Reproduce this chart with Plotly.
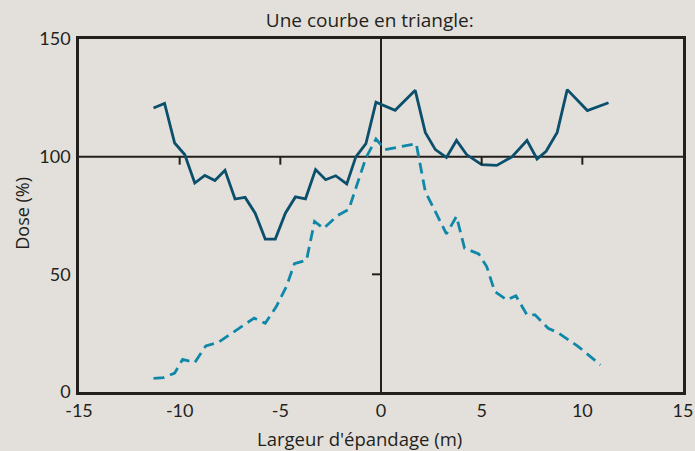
import plotly.graph_objects as go

# Solid curve (dose, overlapping passes)
solid_x = [-11.3, -10.75, -10.25, -9.75, -9.25, -8.75, -8.25, -7.75, -7.25, -6.75, -6.25,
           -5.75, -5.25, -4.75, -4.25, -3.75, -3.25, -2.75, -2.25, -1.7, -1.25, -0.75,
           -0.25, 0.7, 1.7, 2.2, 2.7, 3.25, 3.75, 4.25, 5.0, 5.75, 6.5, 7.25, 7.75,
           8.2, 8.75, 9.25, 10.25, 11.3]
solid_y = [120.7, 122.6, 105.8, 100.9, 88.8, 92.0, 89.9, 94.2, 82.0, 82.7, 76.0,
           65.0, 65.0, 76.0, 82.9, 82.1, 94.5, 90.2, 91.9, 88.4, 99.9, 105.5,
           123.1, 119.7, 128.2, 110.3, 103.0, 99.7, 106.9, 100.9, 96.6, 96.3, 99.9, 106.9, 99.0,
           102.3, 110.3, 128.5, 119.6, 122.9]

# Dashed curve (single pass)
dash_x = [-11.3, -10.8, -10.25, -9.85, -9.25, -8.7, -8.1, -7.0, -6.3, -5.75, -5.2, -4.7,
          -4.3, -3.7, -3.3, -2.85, -2.15, -1.6, -1.25, -0.75, -0.25, 0.2, 1.75, 2.2,
          3.25, 3.75, 4.15, 4.85, 5.25, 5.65, 6.25, 6.7, 7.25, 7.65, 8.3, 8.8, 9.8, 10.9]
dash_y = [5.8, 6.1, 8.0, 13.9, 12.5, 19.6, 21.0, 27.5, 31.4, 29.2, 36.3, 44.8,
          54.5, 56.0, 72.5, 69.5, 75.0, 77.6, 87.0, 99.5, 107.5, 103.0, 105.5, 85.2,
          67.2, 74.6, 61.1, 58.7, 53.3, 42.7, 39.1, 40.9, 32.8, 32.8, 27.1, 25.2, 19.3, 11.5]

x_ticks = [-15, -10, -5, 0, 5, 10, 15]
y_ticks = [0, 50, 100, 150]
inner_x_ticks = [-10, -5, 5, 10]
inner_y_ticks = [50]

title_text = "Une courbe en triangle:"
x_title = "Largeur d'épandage (m)"
y_title = "Dose (%)"

BG = "#e3e0db"
AX = "#231f1c"
FONT = "Lato, 'Noto Sans', sans-serif"
TFONT = "'Open Sans', 'Noto Sans', sans-serif"

fig = go.Figure()
fig.add_trace(go.Scatter(x=solid_x, y=solid_y, mode="lines",
                         line=dict(color="#0b4f6c", width=2.8), showlegend=False))
fig.add_trace(go.Scatter(x=dash_x, y=dash_y, mode="lines",
                         line=dict(color="#0f88a8", width=2.8, dash="11px,6px"), showlegend=False))

shapes = [dict(type="line", xref="paper", yref="y", x0=0, x1=1, y0=100, y1=100,
               line=dict(color=AX, width=2), layer="below")]
for t in inner_x_ticks:
    shapes.append(dict(type="line", xref="x", yref="y", ysizemode="pixel", yanchor=100,
                       x0=t, x1=t, y0=0, y1=-8, line=dict(color=AX, width=2)))
for t in inner_y_ticks:
    shapes.append(dict(type="line", xref="x", yref="y", xsizemode="pixel", xanchor=0,
                       x0=-9, x1=0, y0=t, y1=t, line=dict(color=AX, width=2)))

annotations = [
    dict(text=x_title, xref="paper", yref="paper", x=0.465, y=0, xanchor="center",
         yanchor="middle", yshift=-46, showarrow=False,
         font=dict(family=TFONT, size=18.5, color=AX)),
    dict(text=y_title, xref="paper", yref="paper", x=0, y=0.505, xanchor="center",
         yanchor="middle", xshift=-57, textangle=-90, showarrow=False,
         font=dict(family=TFONT, size=18, color=AX)),
]

fig.update_layout(
    width=695, height=451,
    paper_bgcolor=BG, plot_bgcolor=BG,
    margin=dict(l=79, r=12, t=39, b=59, autoexpand=False),
    font=dict(family=FONT, color=AX, size=18),
    title=dict(text=title_text, x=0.532, xanchor="center", y=0.955, yanchor="middle",
               font=dict(family=TFONT, size=19, color=AX)),
    shapes=shapes,
    annotations=annotations,
    xaxis=dict(range=[-15, 15], tickvals=x_ticks, ticktext=[str(v) for v in x_ticks],
               showgrid=False, zeroline=True, zerolinecolor=AX, zerolinewidth=2,
               showline=True, linecolor=AX, linewidth=2.5, mirror=True, ticks="",
               automargin=False,
               ticklabelstandoff=1, tickfont=dict(size=18)),
    yaxis=dict(range=[0, 150], tickvals=y_ticks, ticktext=[str(v) for v in y_ticks],
               showgrid=False, zeroline=False,
               showline=True, linecolor=AX, linewidth=2.5, mirror=True, ticks="",
               automargin=False,
               ticklabelstandoff=2, tickfont=dict(size=18)),
)

fig.write_html("out.html",
               config={"displayModeBar": False},
               post_script="document.body.style.margin='0px';"
                           "document.body.style.background='#e3e0db';")
